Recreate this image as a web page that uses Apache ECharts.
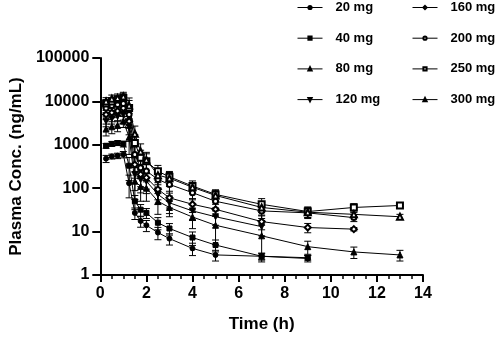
<!DOCTYPE html>
<html><head><meta charset="utf-8">
<script src="https://cdn.jsdelivr.net/npm/echarts@6/dist/echarts.min.js"></script>
<style>html,body{margin:0;padding:0;background:#fff}#c{width:498px;height:338px}</style>
</head><body><div id="c"></div>
<script>
const times = [0.25, 0.5, 0.75, 1, 1.25, 1.5, 1.75, 2, 2.5, 3, 4, 5, 7, 9, 11, 13];
const doseNames = ['20 mg', '40 mg', '80 mg', '120 mg', '160 mg', '200 mg', '250 mg', '300 mg'];
const xTicks = [0, 2, 4, 6, 8, 10, 12, 14];
const yTicks = [1, 10, 100, 1000, 10000, 100000];

const c20  = [480, 540, 560, 600, 130, 27, 17.6, 14, 9.5, 6.9, 4.1, 2.9, 2.7, 2.4, null, null];
const c40  = [950, 1050, 1100, 1050, 330, 50, 32, 27, 16, 11.8, 7.3, 4.9, 2.7, 2.5, null, null];
const c80  = [2300, 2600, 2800, 3500, 1500, 145, 110, 100, 50, 36, 21.7, 14, 8, 4.5, 3.4, 2.9];
const c120 = [3500, 4000, 4500, 5000, 2500, 208, 158, 145, 72, 46, 30, 22, 13, null, null, null];
const c160 = [5000, 5500, 6000, 7000, 3500, 350, 208, 175, 94, 60, 42.6, 32.6, 17, 12.4, 11.4, null];
const c200 = [7000, 8000, 8500, 9000, 5000, 600, 295, 250, 159, 122, 79, 50, 30, 27, 21, null];
const c250 = [9000, 10000, 11000, 12000, 7000, 1100, 500, 420, 245, 183, 112, 72, 42.5, 29, 36, 40];
const c300 = [10000, 11500, 12000, 13000, 8000, 1800, 700, 450, 200, 170, 105, 68, 36, 28, 25, 22];

const e20  = [90, 70, 80, 100, 70, 8, 5, 4, 3, 2, 1.3, 0.8, 0.5, 0.4, null, null];
const e40  = [120, 130, 140, 160, 180, 18, 10, 7, 5, 3.5, 2.5, 1.5, 0.4, 0.3, null, null];
const e80  = [700, 800, 800, 1000, 900, 90, 60, 50, 25, 14, 10, 9, 6, 1.5, 1, 0.8];
const e120 = [900, 1000, 1100, 1300, 1300, 120, 80, 70, 30, 20, 12, 8, 5, null, null, null];
const e160 = [1200, 1300, 1400, 1600, 1800, 180, 100, 80, 40, 25, 15, 10, 6, 3, 1, null];
const e200 = [1500, 1800, 1900, 2200, 2500, 300, 130, 110, 60, 45, 25, 15, 10, 6, 4, null];
const e250 = [2000, 2200, 2500, 3000, 3500, 600, 250, 200, 90, 60, 35, 20, 15, 8, 8, 2];
const e300 = [2200, 2500, 2800, 3200, 4000, 900, 350, 220, 80, 60, 30, 20, 12, 8, 3, 3];

const concs = [c20, c40, c80, c120, c160, c200, c250, c300];
const errs = [e20, e40, e80, e120, e160, e200, e250, e300];
const symbols = ['circle', 'rect', 'triangle', 'path://M0,0 L10,0 L5,9 Z', 'emptyDiamond', 'emptyCircle', 'emptyRect', 'emptyTriangle'];
const symSizes = [5, 5, 6, 6, 6, 5, 6, 6];

const series = [];
const errData = [];
concs.forEach(function (arr, i) {
  const pts = [];
  arr.forEach(function (v, j) {
    if (v == null) return;
    pts.push([times[j], v]);
    const e = errs[i][j] || 0;
    errData.push([times[j], Math.max(v - e, 1.05), v + e]);
  });
  series.push({
    name: doseNames[i], type: 'line', data: pts,
    symbol: symbols[i], symbolSize: symSizes[i], showAllSymbol: true,
    lineStyle: { color: '#000', width: 1 },
    itemStyle: { color: '#000', borderColor: '#000', borderWidth: 1 },
    z: 3
  });
});
series.push({
  type: 'custom', data: errData, z: 2, silent: true,
  renderItem: function (params, api) {
    const x = api.value(0);
    const lo = api.coord([x, api.value(1)]);
    const hi = api.coord([x, api.value(2)]);
    const w = 3.5;
    const st = { stroke: '#000', lineWidth: 1 };
    return { type: 'group', children: [
      { type: 'line', shape: { x1: lo[0], y1: lo[1], x2: hi[0], y2: hi[1] }, style: st },
      { type: 'line', shape: { x1: lo[0] - w, y1: lo[1], x2: lo[0] + w, y2: lo[1] }, style: st },
      { type: 'line', shape: { x1: hi[0] - w, y1: hi[1], x2: hi[0] + w, y2: hi[1] }, style: st }
    ]};
  }
});

const font = 'Liberation Sans, Arial, sans-serif';
const legendBase = {
  orient: 'vertical', itemWidth: 25, itemHeight: 4, itemGap: 17.7, top: -4,
  lineStyle: { width: 1 },
  textStyle: { fontFamily: font, fontWeight: 'bold', fontSize: 13, color: '#000', padding: [0, 0, 0, 8] },
  inactiveColor: '#000'
};

const chart = echarts.init(document.getElementById('c'), null, { renderer: 'canvas' });
chart.setOption({
  animation: false,
  backgroundColor: '#fff',
  grid: { left: 97, top: 58, right: 75, bottom: 62, containLabel: false },
  legend: [
    Object.assign({}, legendBase, { left: 292, data: doseNames.slice(0, 4) }),
    Object.assign({}, legendBase, { left: 407, data: doseNames.slice(4) })
  ],
  xAxis: {
    type: 'value', min: xTicks[0], max: xTicks[xTicks.length - 1], interval: 2,
    name: 'Time (h)', nameLocation: 'middle', nameGap: 41,
    nameTextStyle: { fontFamily: font, fontWeight: 'bold', fontSize: 17, color: '#000' },
    axisLine: { show: true, onZero: false, lineStyle: { color: '#000', width: 2 } },
    axisTick: { show: true, length: 7, lineStyle: { color: '#000', width: 2 } },
    minorTick: { show: true, splitNumber: 4, length: 4, lineStyle: { color: '#000', width: 1.5 } },
    splitLine: { show: false },
    axisLabel: { fontFamily: font, fontWeight: 'bold', fontSize: 16, color: '#000', margin: 11 }
  },
  yAxis: {
    type: 'log', logBase: 10, min: yTicks[0], max: yTicks[yTicks.length - 1],
    name: 'Plasma Conc. (ng/mL)', nameLocation: 'middle', nameGap: 60,
    nameTextStyle: { fontFamily: font, fontWeight: 'bold', fontSize: 17, color: '#000' },
    axisLine: { show: true, lineStyle: { color: '#000', width: 2 } },
    axisTick: { show: true, length: 8, lineStyle: { color: '#000', width: 2 } },
    minorTick: { show: false },
    splitLine: { show: false },
    axisLabel: { fontFamily: font, fontWeight: 'bold', fontSize: 16, color: '#000', margin: 11,
      formatter: function (v) { return String(Math.round(v)); } }
  },
  series: series
});
</script></body></html>
